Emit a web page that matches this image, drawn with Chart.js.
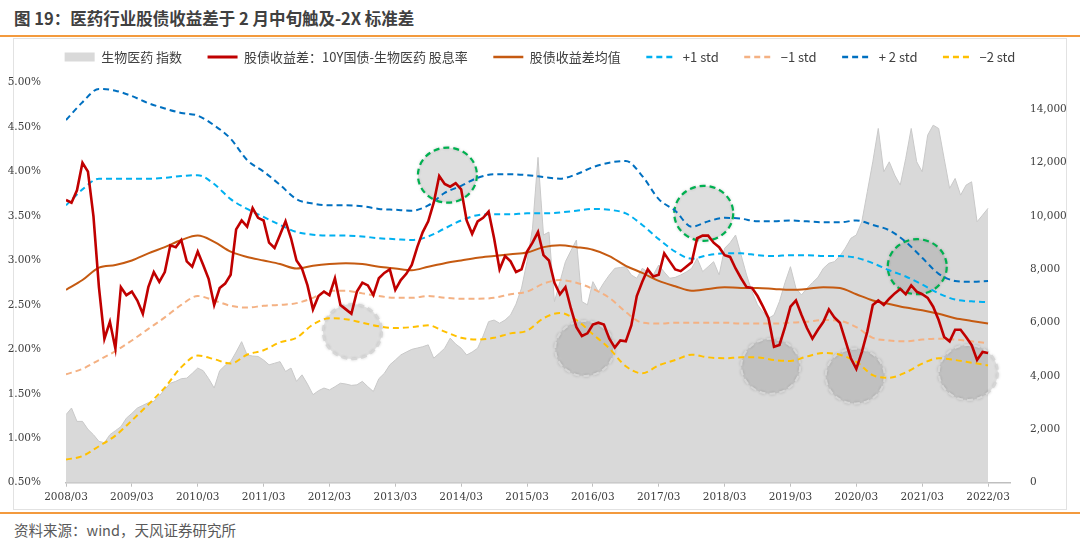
<!DOCTYPE html>
<html>
<head>
<meta charset="utf-8">
<script src="https://cdn.jsdelivr.net/npm/chart.js@4.4.1/dist/chart.umd.min.js"></script>
<style>
  html, body { margin: 0; padding: 0; background: #fff; }
  body { width: 1080px; height: 549px; position: relative; overflow: hidden; font-family: "Noto Sans CJK SC", "Noto Sans", sans-serif; }
  #title { position: absolute; left: 14px; top: 6px; font-size: 16.5px; font-weight: bold; color: #404040; line-height: 24px; white-space: nowrap; }
  .rule { position: absolute; left: 0; width: 1080px; height: 2px; background: #F39A3D; }
  #frame { position: absolute; left: 13px; top: 38px; width: 1052px; height: 470px; border: 1px solid #E2E2E2; }
  #chart { position: absolute; left: 0; top: 25px; }
  #source { position: absolute; left: 14px; top: 519px; font-size: 14.5px; color: #595959; line-height: 22px; white-space: nowrap; }
</style>
</head>
<body>
<div id="title">图 19：医药行业股债收益差于 2 月中旬触及-2X 标准差</div>
<div class="rule" style="top:35px"></div>
<div id="frame"></div>
<canvas id="chart" width="1080" height="484"></canvas>
<div class="rule" style="top:512px"></div>
<div id="source">资料来源：wind，天风证券研究所</div>
<script>
// x axis: months counted from 2008/03
const yearLabels = ['2008/03', '2009/03', '2010/03', '2011/03', '2012/03', '2013/03', '2014/03',
    '2015/03', '2016/03', '2017/03', '2018/03', '2019/03', '2020/03', '2021/03', '2022/03']
const leftTicks = [0.5, 1.0, 1.5, 2.0, 2.5, 3.0, 3.5, 4.0, 4.5, 5.0]
const rightTicks = [0, 2000, 4000, 6000, 8000, 10000, 12000, 14000]

// 生物医药 指数 (right axis), one value per month
const indexValues = [
    2550, 2800, 2300, 2300, 2000, 1800, 1550, 1500, 1800, 1950, 2100, 2420,
    2600, 2800, 2900, 3000, 3050, 3250, 3500, 3730, 3800, 3900, 3920, 4100,
    4300, 4200, 3900, 3550, 4200, 4400, 4540, 4900, 5290, 4790, 4750, 4735,
    4600, 4420, 4480, 4540, 4170, 4300, 3800, 4045, 3700, 3300, 3450, 3550,
    3480, 3600, 3730, 3700, 3650, 3670, 3800, 3600, 3420, 3900, 4100, 4420,
    4600, 4790, 4900, 5000, 5050, 5100, 5170, 4670, 4850, 5044, 5420, 5200,
    5044, 4790, 4900, 5044, 5500, 6040, 6100, 5980, 6100, 6290, 6700, 7300,
    8290, 9540, 12200, 9290, 9400, 6790, 7540, 8290, 8700, 9100, 6790, 6670,
    7540, 7164, 7500, 7790, 8040, 8070, 8100, 7790, 7666, 8040, 7900, 7790,
    8164, 7900, 7666, 7700, 7790, 7900, 8040, 8415, 7915, 8100, 8288, 7790,
    8790, 9000, 9288, 8540, 7790, 7164, 6670, 6400, 6168, 6290, 6800, 7500,
    8100, 7290, 7040, 7290, 7500, 7700, 8040, 8228, 8290, 8500, 8800, 9164,
    9290, 9786, 10909, 12033, 13284, 11658, 12033, 11535, 11160, 12160, 13284, 12033,
    11658, 13033, 13407, 13284, 12160, 11036, 11410, 10785, 11160, 11285, 9786, 10035,
    10290
]

// 股债收益差 (%), one value per month
const spreadValues = [
    3.68, 3.65, 3.79, 4.10, 4.00, 3.50, 2.70, 2.12, 2.31, 2.01, 2.70, 2.61,
    2.65, 2.55, 2.40, 2.70, 2.87, 2.76, 2.87, 3.17, 3.15, 3.23, 2.99, 2.93,
    3.10, 2.95, 2.79, 2.50, 2.69, 2.74, 2.84, 3.35, 3.45, 3.38, 3.59, 3.48,
    3.45, 3.20, 3.14, 3.29, 3.44, 3.25, 3.00, 2.91, 2.72, 2.45, 2.60, 2.65,
    2.61, 2.80, 2.50, 2.45, 2.40, 2.65, 2.75, 2.72, 2.61, 2.80, 2.86, 2.90,
    2.67, 2.78, 2.85, 2.95, 3.15, 3.32, 3.44, 3.65, 3.95, 3.86, 3.83, 3.87,
    3.80, 3.45, 3.30, 3.44, 3.48, 3.55, 3.25, 2.90, 3.05, 2.99, 2.87, 2.90,
    3.10, 3.20, 3.32, 3.06, 3.00, 2.75, 2.62, 2.70, 2.46, 2.25, 2.15, 2.18,
    2.28, 2.30, 2.28, 2.12, 2.02, 2.10, 2.09, 2.27, 2.60, 2.76, 2.90, 2.82,
    2.84, 3.08, 2.99, 2.90, 2.88, 2.93, 2.98, 3.25, 3.28, 3.28, 3.20, 3.15,
    3.06, 3.04, 2.91, 2.80, 2.70, 2.69, 2.60, 2.48, 2.35, 2.03, 2.05, 2.25,
    2.48, 2.55, 2.39, 2.24, 2.12, 2.22, 2.31, 2.45, 2.36, 2.30, 2.10, 1.90,
    1.78, 1.97, 2.20, 2.50, 2.55, 2.50, 2.57, 2.63, 2.68, 2.62, 2.72, 2.65,
    2.62, 2.58, 2.48, 2.33, 2.14, 2.09, 2.22, 2.22, 2.14, 2.05, 1.88, 1.97,
    1.96
]

// mean and std bands, read every 3 months
const bandStep = 3
const meanValues = [2.67, 2.78, 2.92, 2.95, 3.00, 3.08, 3.15, 3.23, 3.28, 3.21,
    3.10, 3.04, 3.00, 2.96, 2.91, 2.94, 2.96, 2.97, 2.96, 2.93,
    2.91, 2.89, 2.93, 2.97, 3.00, 3.03, 3.05, 3.07, 3.09, 3.15,
    3.17, 3.15, 3.12, 3.05, 2.94, 2.86, 2.77, 2.71, 2.66, 2.68,
    2.70, 2.69, 2.69, 2.68, 2.67, 2.68, 2.70, 2.69, 2.62, 2.55,
    2.51, 2.47, 2.44, 2.40, 2.35, 2.32, 2.29]
const plus1Values = [3.62, 3.80, 3.92, 3.92, 3.92, 3.92, 3.93, 3.95, 3.96, 3.86,
    3.69, 3.58, 3.49, 3.40, 3.32, 3.29, 3.28, 3.28, 3.27, 3.25,
    3.24, 3.23, 3.27, 3.36, 3.45, 3.51, 3.52, 3.52, 3.53, 3.53,
    3.54, 3.56, 3.58, 3.57, 3.53, 3.40, 3.24, 3.10, 3.02, 3.06,
    3.08, 3.08, 3.06, 3.05, 3.06, 3.06, 3.05, 3.05, 3.03, 2.97,
    2.89, 2.82, 2.73, 2.63, 2.56, 2.54, 2.53]
const minus1Values = [1.72, 1.78, 1.88, 1.98, 2.10, 2.23, 2.36, 2.50, 2.60, 2.55,
    2.49, 2.47, 2.49, 2.50, 2.52, 2.58, 2.66, 2.66, 2.63, 2.60,
    2.58, 2.58, 2.60, 2.58, 2.57, 2.57, 2.58, 2.62, 2.65, 2.74,
    2.78, 2.75, 2.68, 2.58, 2.42, 2.30, 2.29, 2.30, 2.30, 2.30,
    2.30, 2.29, 2.29, 2.29, 2.30, 2.31, 2.33, 2.32, 2.25, 2.13,
    2.10, 2.09, 2.11, 2.12, 2.11, 2.09, 2.07]
const plus2Values = [4.58, 4.78, 4.93, 4.91, 4.85, 4.77, 4.71, 4.66, 4.63, 4.52,
    4.37, 4.13, 4.00, 3.85, 3.69, 3.64, 3.62, 3.62, 3.61, 3.58,
    3.57, 3.56, 3.62, 3.76, 3.84, 3.93, 3.97, 3.97, 3.96, 3.94,
    3.92, 3.97, 4.05, 4.10, 4.12, 3.95, 3.69, 3.56, 3.38, 3.44,
    3.48, 3.47, 3.44, 3.44, 3.45, 3.44, 3.43, 3.43, 3.45, 3.40,
    3.34, 3.21, 3.03, 2.85, 2.77, 2.76, 2.77]
const minus2Values = [0.76, 0.80, 0.91, 1.03, 1.20, 1.38, 1.57, 1.80, 1.93, 1.89,
    1.84, 1.94, 1.99, 2.08, 2.13, 2.28, 2.35, 2.34, 2.30, 2.26,
    2.24, 2.25, 2.27, 2.20, 2.13, 2.11, 2.13, 2.18, 2.21, 2.35,
    2.41, 2.33, 2.17, 2.01, 1.81, 1.73, 1.82, 1.88, 1.94, 1.91,
    1.90, 1.91, 1.91, 1.88, 1.87, 1.92, 1.96, 1.94, 1.86, 1.71,
    1.68, 1.74, 1.84, 1.90, 1.88, 1.85, 1.82]

// highlighted zones (month, spread %)
const circleMarks = [
    { month: 69.5, value: 3.96, green: true },
    { month: 116.2, value: 3.53, green: true },
    { month: 155.1, value: 2.93, green: true },
    { month: 52.2, value: 2.20, green: false },
    { month: 94.5, value: 2.01, green: false },
    { month: 128.4, value: 1.81, green: false },
    { month: 143.8, value: 1.70, green: false },
    { month: 164.4, value: 1.74, green: false }
]

const monthly = values => values.map((v, i) => ({ x: i, y: v }))
const quarterly = values => values.map((v, i) => ({ x: i * bandStep, y: v }))

Chart.defaults.font.family = '"Noto Sans CJK SC", "Noto Sans", sans-serif'
Chart.defaults.color = '#404040'

const tickFont = { family: '"DejaVu Serif", serif', size: 10.5 }

const band = (label, values, color, order) => ({
    label: label,
    data: quarterly(values),
    borderColor: color,
    backgroundColor: color,
    borderWidth: 2,
    borderDash: [6, 4],
    pointRadius: 0,
    cubicInterpolationMode: 'monotone',
    order: order
})

const legendHeight = {
    id: 'legendHeight',
    beforeInit(chart) {
        const fit = chart.legend.fit
        chart.legend.fit = function () {
            fit.call(this)
            this.height = 57.7
        }
    }
}

const circlesPlugin = {
    id: 'circles',
    afterDatasetDraw(chart, args) {
        if (args.index !== 0) return
        const { ctx, scales } = chart
        circleMarks.forEach(c => {
            const cx = scales.x.getPixelForValue(c.month)
            const cy = scales.y.getPixelForValue(c.value)
            ctx.save()
            ctx.beginPath()
            ctx.ellipse(cx, cy, 29.5, 27.5, 0, 0, Math.PI * 2)
            ctx.shadowColor = 'rgba(0,0,0,0.2)'
            ctx.shadowBlur = 3
            ctx.fillStyle = 'rgba(128,128,128,0.2)'
            ctx.fill()
            ctx.setLineDash([6, 4])
            ctx.lineWidth = 2.2
            ctx.strokeStyle = c.green ? '#00B050' : '#D6D6D6'
            ctx.stroke()
            ctx.restore()
        })
    }
}

new Chart(document.getElementById('chart'), {
    type: 'line',
    data: {
        datasets: [
            {
                label: '生物医药 指数',
                data: monthly(indexValues),
                yAxisID: 'y1',
                fill: 'origin',
                backgroundColor: '#D9D9D9',
                borderColor: '#C9C9C9',
                borderWidth: 1,
                pointRadius: 0,
                order: 10
            },
            {
                label: '股债收益差：10Y国债-生物医药 股息率',
                data: monthly(spreadValues),
                borderColor: '#C00000',
                backgroundColor: '#C00000',
                borderWidth: 2.6,
                pointRadius: 0,
                order: 0
            },
            {
                label: '股债收益差均值',
                data: quarterly(meanValues),
                borderColor: '#C55A11',
                backgroundColor: '#C55A11',
                borderWidth: 2,
                pointRadius: 0,
                cubicInterpolationMode: 'monotone',
                order: 1
            },
            band('+1 std', plus1Values, '#00B0F0', 2),
            band('−1 std', minus1Values, '#F4B183', 3),
            band('+ 2 std', plus2Values, '#0070C0', 4),
            band('−2 std', minus2Values, '#FFC000', 5)
        ]
    },
    options: {
        responsive: false,
        animation: false,
        layout: { padding: 0 },
        scales: {
            x: {
                type: 'linear',
                min: 0,
                max: 172,
                afterBuildTicks: s => { s.ticks = yearLabels.map((l, i) => ({ value: i * 12 })) },
                afterFit: s => { s.height = 26.3 },
                ticks: {
                    autoSkip: false,
                    maxRotation: 0,
                    padding: 4,
                    font: tickFont,
                    color: '#404040',
                    callback: v => yearLabels[Math.round(v / 12)]
                },
                grid: { drawOnChartArea: false, drawTicks: true, tickLength: 4, color: '#BFBFBF' },
                border: { display: true, color: '#BFBFBF', width: 1.5 }
            },
            y: {
                position: 'left',
                min: 0.5,
                max: 5,
                afterBuildTicks: s => { s.ticks = leftTicks.map(v => ({ value: v })) },
                afterFit: s => { s.width = 66 },
                ticks: {
                    padding: 17,
                    font: tickFont,
                    color: '#404040',
                    callback: v => v.toFixed(2) + '%'
                },
                grid: { display: false },
                border: { display: false }
            },
            y1: {
                position: 'right',
                min: 0,
                max: 15000,
                afterBuildTicks: s => { s.ticks = rightTicks.map(v => ({ value: v })) },
                afterFit: s => { s.width = 70 },
                ticks: {
                    padding: 12,
                    font: tickFont,
                    color: '#404040',
                    callback: v => v.toLocaleString('en-US')
                },
                grid: { display: false },
                border: { display: false }
            }
        },
        plugins: {
            tooltip: { enabled: false },
            legend: {
                position: 'top',
                labels: {
                    usePointStyle: true,
                    pointStyleWidth: 30,
                    boxHeight: 9,
                    padding: 25.5,
                    color: '#404040',
                    font: { size: 13 },
                    sort: (a, b) => a.datasetIndex - b.datasetIndex,
                    generateLabels: chart => Chart.defaults.plugins.legend.labels.generateLabels(chart).map(item => {
                        const ds = chart.data.datasets[item.datasetIndex]
                        if (item.datasetIndex === 0) {
                            return { ...item, pointStyle: 'rect', fillStyle: '#D9D9D9', strokeStyle: '#D9D9D9', lineWidth: 0 }
                        }
                        return { ...item, pointStyle: 'line', strokeStyle: ds.borderColor, lineWidth: ds.borderWidth + 0.3, lineDash: ds.borderDash || [] }
                    })
                }
            }
        }
    },
    plugins: [legendHeight, circlesPlugin]
});
</script>
</body>
</html>
